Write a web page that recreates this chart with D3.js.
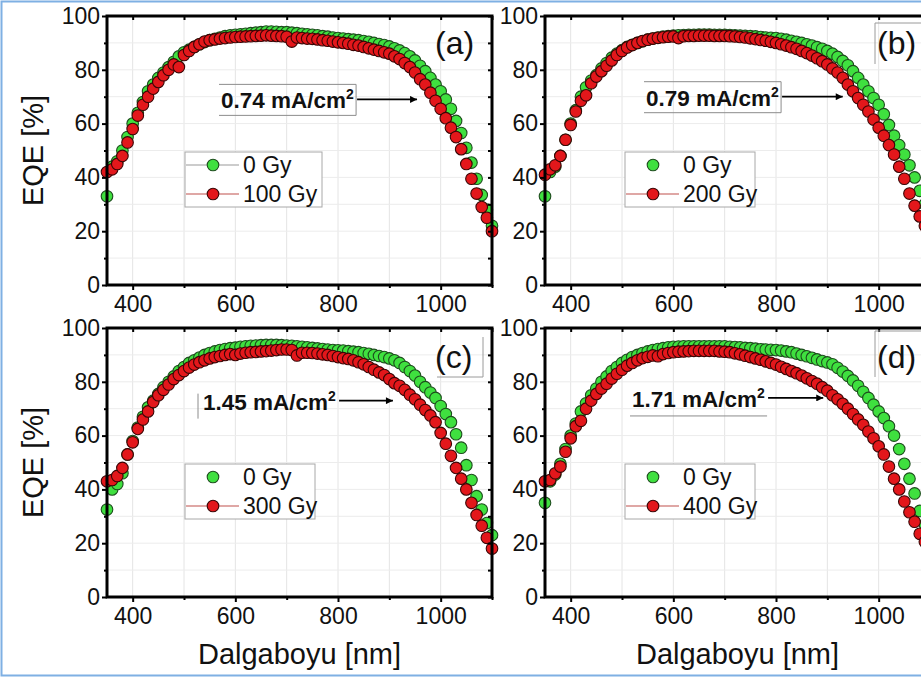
<!DOCTYPE html>
<html>
<head>
<meta charset="utf-8">
<script src="https://cdn.jsdelivr.net/npm/d3@7"></script>
<style>
body { margin: 0; background: #fff; }
svg text { font-family: Arial, "Liberation Sans", sans-serif; fill: #111; }
</style>
</head>
<body>
<svg id="chart" width="921" height="677"></svg>
<script>
// wavelength grid of the measurement (nm)
var wavelength = [350,360,370,380,390,400,410,420,430,440,
    450,460,470,480,490,500,510,520,530,540,
    550,560,570,580,590,600,610,620,630,640,
    650,660,670,680,690,700,710,720,730,740,
    750,760,770,780,790,800,810,820,830,840,
    850,860,870,880,890,900,910,920,930,940,
    950,960,970,980,990,1000,1010,1020,1030,1040,
    1050,1060,1070,1080,1090,1100];

// EQE values (%)
var a0Gy = [33,44,46,50,55,60,64,68,72,74.5,
    77,79,81,83,85,86.5,87.5,88.5,89.5,90.3,
    91,91.5,92,92.5,92.8,93,93.2,93.4,93.6,93.8,
    94,94.2,94.2,94.1,94,94,93.8,93.6,93.4,93.2,
    93,92.8,92.5,92.3,92,91.8,91.6,91.4,91.2,91,
    90.7,90.4,90,89.6,89.2,88.7,88,87.2,86.2,85,
    83.5,81.5,79.5,77,74.5,72,69,65.5,61,56.5,
    51,45.5,39.5,33.5,28,22];
var a100Gy = [42,43,45,48,53,58,63,67,70,73,
    75.5,78,80,82,81,85.5,87,88.5,89.5,90.5,
    91,91.3,91.6,91.8,92,92.2,92.3,92.4,92.5,92.6,
    92.7,92.8,92.7,92.6,92.5,92.3,90.5,92,91.8,91.6,
    91.5,91.3,91,90.8,90.5,90.2,90,89.7,89.3,89,
    88.5,88,87.5,87,86.5,86,85,84,82.5,81,
    79,76.5,74.5,71.5,68.5,65.5,62,58.5,55,50.5,
    45,39.5,34,29,25,20];
var b0Gy = [33,42,44,48,54,60,65,70,73.5,76,
    78,80.5,82.5,84.5,86,87.3,88.5,89.3,90,90.6,
    91.2,91.6,92,92.3,92.5,92.7,92.8,92.9,93,93,
    93.1,93.1,93.1,93,93,93,92.9,92.8,92.7,92.6,
    92.5,92.4,92.2,92,91.9,91.8,91.5,91.2,90.8,90.4,
    90,89.5,89,88.4,87.8,87,86,84.8,83.3,81.7,
    79.5,77,74.5,72,69.5,67,63.5,59.5,55.5,52,
    48.5,44.5,40,35,30,25];
var b200Gy = [41,43,44.5,48,54,59.5,64.5,68.5,70.5,75,
    77.5,79.5,81.5,83.5,85.5,87,88.3,89.2,90,90.7,
    91.2,91.6,91.9,92.1,92.3,92.4,91.8,92.5,92.6,92.6,
    92.7,92.7,92.7,92.6,92.6,92.6,92.5,92.4,92.2,92,
    91.7,91.4,91.1,90.8,90.4,90,89.5,89,88.4,87.8,
    87,86.2,85.3,84.3,83.2,82,80.5,79,77,74.5,
    72,69.5,67,64.5,61.5,58.5,55.5,52,48.5,44,
    39.5,34,29.5,25.5,22,18];
var c0Gy = [32.5,40,42,46,53,58,63,67,70.5,73,
    75.5,78,80,82,84,85.5,87,88,89,90,
    90.7,91.3,91.8,92.2,92.5,92.7,93,93.2,93.4,93.5,
    93.6,93.7,93.7,93.7,93.6,93.5,93.4,93.2,93,92.8,
    92.6,92.4,92.2,92,91.8,91.7,91.6,91.4,91.2,91,
    90.7,90.4,90,89.6,89.2,88.7,88,87,85.5,84,
    82.3,80,78,76,74,71,68,65,60.5,55.5,
    49,43.5,37.5,32.5,27.5,23];
var c300Gy = [43,43.5,45,48,53,57.5,62.5,66,69,72.5,
    75,77,79,81,82.5,84,85.3,86.4,87.3,88,
    88.7,89.2,89.6,90,90.3,90,90.5,90.8,91,91.1,
    91.3,91.4,91.6,91.8,92,92,91.8,89.8,90.8,90.8,
    90.7,90.5,90.2,90,89.6,89.2,88.8,88.5,88,87.3,
    86.5,85.5,84.5,83.5,82.5,81,79.5,78.5,77,75.2,
    73.5,71.5,69.5,67.5,65,61,57,52.5,48,44,
    40,35,30.5,26.5,22,18];
var d0Gy = [35,43,45.5,49.5,55,60,64.5,69,72,75,
    77.5,80,82,84,85.5,87,88.2,89.2,90,90.7,
    91.3,91.8,92.2,92.5,92.8,93,93.1,93.2,93.2,93.2,
    93.2,93.2,93.2,93.2,93.2,93.2,93,92.9,92.8,92.6,
    92.5,92.3,92.1,92,91.9,91.8,91.6,91.3,91,90.5,
    90,89.5,88.9,88.3,87.7,87.2,86.5,85.2,83.8,82.2,
    80.5,78.5,76.3,74,71.5,69,66.5,63.5,60,55,
    49.5,44,38.5,32,27,22];
var d400Gy = [43,43.5,46,48.5,54,59,63.5,65.5,70,73,
    75.5,77.5,79.3,81.2,83,84.5,86,87,88,88.8,
    89.3,89.8,89.5,90.3,90.7,91,91.2,91.3,91.4,91.5,
    91.5,91.5,91.5,91.5,91.3,91.2,91,90.6,90.2,89.7,
    89.2,88.7,88.2,87.6,87,86.4,85.6,84.8,84,83.2,
    82.3,81.3,80.3,79.3,78,76.7,75,73.5,71.8,70,
    68,66,64,61.5,59,56,53,48.5,44,40,
    35.5,31.5,28,23.5,20.5,17];

var xTicks = [400, 600, 800, 1000];
var xMinor = [500, 700, 900, 1100];
var yTicks = [0, 20, 40, 60, 80, 100];
var yMinor = [10, 30, 50, 70, 90];
var xGrid = [400, 500, 600, 700, 800, 900, 1000];
var yGrid = [10, 20, 30, 40, 50, 60, 70, 80, 90];

var panelNames = ["(a)", "(b)", "(c)", "(d)"];
var doseNames = ["100 Gy", "200 Gy", "300 Gy", "400 Gy"];
var jscLoss = ["0.74", "0.79", "1.45", "1.71"];
// where the arrow of each annotation points to [nm, %]
var arrowTip = [[954, 69], [930, 70], [907, 73], [892, 74]];

var svg = d3.select("#chart");
var green = "#3fe03f", red = "#e3171b";

svg.append("defs").append("marker")
    .attr("id", "head")
    .attr("viewBox", "0 0 10 10")
    .attr("refX", 10).attr("refY", 5)
    .attr("markerWidth", 11).attr("markerHeight", 7)
    .attr("markerUnits", "userSpaceOnUse")
    .attr("orient", "auto")
    .append("path").attr("d", "M0,0 L10,5 L0,10 Z").attr("fill", "#000");

function eqePanel(index, left, top, ref, irr, opts) {
    var w = 385, h = 269;
    var xScale = d3.scaleLinear().domain([350, 1100]).range([0, w]);
    var yScale = d3.scaleLinear().domain([0, 100]).range([h, 0]);

    var g = svg.append("g").attr("transform", "translate(" + left + "," + top + ")");

    // faint grid
    g.selectAll(".gx").data(xGrid).enter().append("line")
        .attr("x1", function (d) { return xScale(d); }).attr("x2", function (d) { return xScale(d); })
        .attr("y1", 0).attr("y2", h)
        .attr("stroke", "#e4e4e4").attr("stroke-width", 1);
    g.selectAll(".gy").data(yGrid).enter().append("line")
        .attr("x1", 0).attr("x2", w)
        .attr("y1", function (d) { return yScale(d); }).attr("y2", function (d) { return yScale(d); })
        .attr("stroke", "#ececec").attr("stroke-width", 1);

    // points: reference first, irradiated on top
    var series = [[ref, green, "#1d4d1d"], [irr, red, "#3a0505"]];
    series.forEach(function (s) {
        g.append("g").selectAll("circle")
            .data(s[0]).enter().append("circle")
            .attr("cx", function (d, i) { return xScale(wavelength[i]); })
            .attr("cy", function (d) { return yScale(d); })
            .attr("r", 5.8)
            .attr("fill", s[1])
            .attr("stroke", s[2])
            .attr("stroke-width", 1.1);
    });

    // axes
    var xAxis = d3.axisBottom(xScale).tickValues(xTicks).tickSize(5).tickPadding(6).tickFormat(d3.format("d"));
    var yAxis = d3.axisLeft(yScale).tickValues(yTicks).tickSize(5).tickPadding(2);

    var ax = g.append("g").attr("transform", "translate(0," + h + ")").call(xAxis);
    var ay = g.append("g").call(yAxis);
    [ax, ay].forEach(function (a) {
        a.select(".domain").remove();
        a.selectAll("line").attr("stroke", "#000").attr("stroke-width", 2);
        a.selectAll("text").style("font-size", "23px").attr("fill", "#111");
    });
    g.append("g").attr("transform", "translate(0," + h + ")")
        .call(d3.axisBottom(xScale).tickValues(xMinor).tickSize(3).tickFormat(""))
        .call(function (s) { s.select(".domain").remove(); s.selectAll("line").attr("stroke-width", 2); });
    g.append("g")
        .call(d3.axisLeft(yScale).tickValues(yMinor).tickSize(3).tickFormat(""))
        .call(function (s) { s.select(".domain").remove(); s.selectAll("line").attr("stroke-width", 2); });
    // mirrored ticks pointing inward on top and right
    g.append("g")
        .call(d3.axisBottom(xScale).tickValues(xTicks.concat(xMinor)).tickSize(4).tickFormat(""))
        .call(function (s) { s.select(".domain").remove(); s.selectAll("line").attr("stroke-width", 2); });
    g.append("g").attr("transform", "translate(" + w + ",0)")
        .call(d3.axisLeft(yScale).tickValues(yTicks.concat(yMinor)).tickSize(4).tickFormat(""))
        .call(function (s) { s.select(".domain").remove(); s.selectAll("line").attr("stroke-width", 2); });

    g.append("rect")
        .attr("x", 0).attr("y", 0).attr("width", w).attr("height", h)
        .attr("fill", "none").attr("stroke", "#000").attr("stroke-width", 3);

    // axis titles
    if (opts.yTitle) {
        svg.append("text")
            .attr("transform", "translate(" + (left - 64) + "," + (top + h / 2) + ") rotate(-90)")
            .attr("text-anchor", "middle")
            .style("font-size", "29px")
            .text("EQE [%]");
    }
    if (opts.xTitle) {
        svg.append("text")
            .attr("x", left + w / 2).attr("y", top + h + 67)
            .attr("text-anchor", "middle")
            .style("font-size", "29px")
            .text("Dalgaboyu [nm]");
    }

    // panel tag
    g.append("text")
        .attr("x", opts.tagX).attr("y", opts.tagY)
        .style("font-size", "32px")
        .text(panelNames[index]);
    if (opts.tagBox) {
        g.append("path").attr("d", opts.tagBox)
            .attr("fill", "none").attr("stroke", "#9a9a9a").attr("stroke-width", 1);
    }

    // Jsc loss annotation with arrow
    var tip = arrowTip[index];
    var ty = yScale(tip[1]);
    var tx = xScale(tip[0]);
    var note = g.append("text")
        .attr("x", opts.noteX).attr("y", ty + 9)
        .style("font-size", "22.5px").style("font-weight", "bold");
    note.append("tspan").text(jscLoss[index] + " mA/cm");
    note.append("tspan").attr("dy", -9).style("font-size", "14px").text("2");
    var nb = note.node().getBBox();
    g.append("line")
        .attr("x1", nb.x + nb.width + 3).attr("x2", tx)
        .attr("y1", ty).attr("y2", ty)
        .attr("stroke", "#000").attr("stroke-width", 1.7)
        .attr("marker-end", "url(#head)");
    if (opts.noteBox) {
        var bx0 = nb.x - 2, bx1 = nb.x + nb.width + 2, by0 = ty - 15, by1 = ty + 16;
        var pathD = {
            box: "M" + bx0 + "," + by0 + "H" + bx1 + "V" + by1 + "H" + bx0,
            left: "M" + (bx0 - 3) + "," + (by0 + 8) + "V" + (by1 + 2),
            under: "M" + bx0 + "," + (by1 + 2) + "H" + bx1
        }[opts.noteBox];
        g.append("path").attr("d", pathD)
            .attr("fill", "none").attr("stroke", "#8c8c8c").attr("stroke-width", 1);
    }

    // legend
    var lx = opts.legX, ly = 136;
    g.append("rect")
        .attr("x", lx).attr("y", ly).attr("width", opts.legW).attr("height", 55)
        .attr("fill", "#fff").attr("stroke", "#a8a8a8").attr("stroke-width", 1);
    var rows = [["0 Gy", green, "#1d4d1d", opts.greenLine ? "#9a9a9a" : null],
                [doseNames[index], red, "#3a0505", "#c0504d"]];
    rows.forEach(function (r, k) {
        var cy = ly + 13 + k * 29;
        if (r[3]) {
            g.append("line")
                .attr("x1", lx + 1).attr("x2", lx + 54)
                .attr("y1", cy).attr("y2", cy)
                .attr("stroke", r[3]).attr("stroke-width", 1.2);
        }
        g.append("circle")
            .attr("cx", lx + 28).attr("cy", cy).attr("r", 5.8)
            .attr("fill", r[1]).attr("stroke", r[2]).attr("stroke-width", 1.1);
        g.append("text")
            .attr("x", lx + 58).attr("y", cy + 8)
            .style("font-size", "23px")
            .text(r[0]);
    });
}

eqePanel(0, 107, 16, a0Gy, a100Gy, {yTitle: true, xTitle: false, tagX: 328, tagY: 38,
    noteX: 114, noteBox: "box", legX: 78, legW: 137, greenLine: true});
eqePanel(1, 545, 16, b0Gy, b200Gy, {yTitle: false, xTitle: false, tagX: 332, tagY: 38,
    tagBox: "M330,48V7H385", noteX: 101, noteBox: "box", legX: 80, legW: 130, greenLine: false});
eqePanel(2, 107, 328, c0Gy, c300Gy, {yTitle: true, xTitle: true, tagX: 328, tagY: 40,
    tagBox: "M330,49H376V9", noteX: 96, noteBox: "left", legX: 78, legW: 130, greenLine: false});
eqePanel(3, 545, 328, d0Gy, d400Gy, {yTitle: false, xTitle: true, tagX: 332, tagY: 40,
    tagBox: "M330,49V3H385", noteX: 87, noteBox: "under", legX: 80, legW: 130, greenLine: false});

// outer frame of the figure (cropped on the right)
svg.append("path")
    .attr("d", "M930,1.5H1.5V675.5H930")
    .attr("fill", "none").attr("stroke", "#7fb0e3").attr("stroke-width", 2);
</script>
</body>
</html>
